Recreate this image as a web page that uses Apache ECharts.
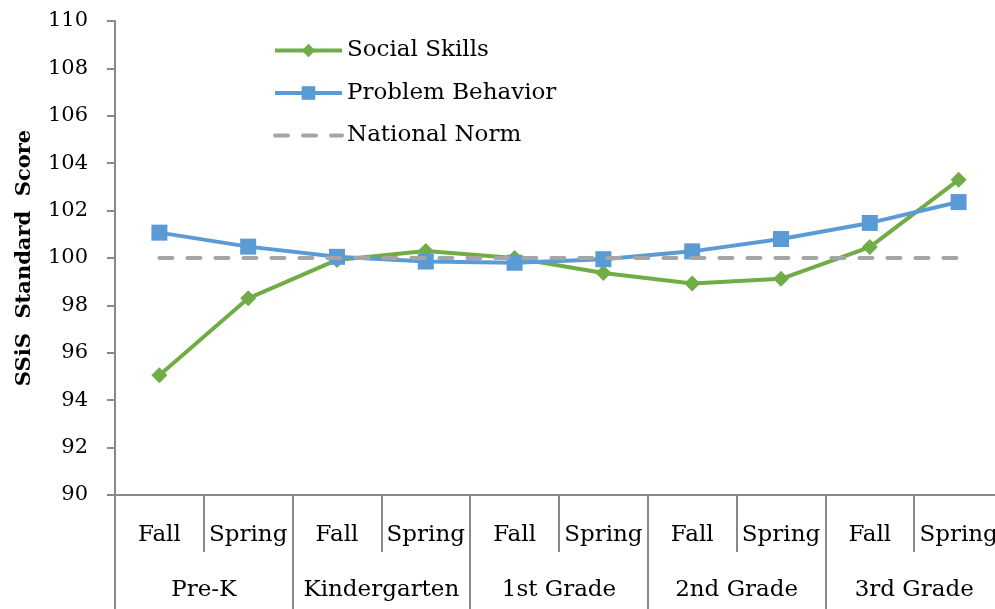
<!DOCTYPE html>
<html>
<head>
<meta charset="utf-8">
<script src="https://cdn.jsdelivr.net/npm/echarts@6/dist/echarts.min.js"></script>
<style>
	html, body { margin: 0; padding: 0; background: #fff; }
	#chart { width: 995px; height: 609px; }
</style>
</head>
<body>
<div id="chart"></div>
<script>
	// terms within each grade, and the grades themselves
	var terms = ['Fall', 'Spring', 'Fall', 'Spring', 'Fall', 'Spring', 'Fall', 'Spring', 'Fall', 'Spring'];
	var grades = ['Pre-K', 'Kindergarten', '1st Grade', '2nd Grade', '3rd Grade'];

	var socialSkills = [95.05, 98.3, 99.92, 100.3, 100.0, 99.37, 98.92, 99.12, 100.46, 103.3];
	var problemBehavior = [101.07, 100.48, 100.05, 99.85, 99.8, 99.95, 100.28, 100.8, 101.48, 102.36];
	var nationalNorm = [100, 100, 100, 100, 100, 100, 100, 100, 100, 100];

	var yTicks = { min: 90, max: 110, interval: 2 };

	var font = 'DejaVu Serif';
	var axisGray = '#898989';

	var chart = echarts.init(document.getElementById('chart'));
	chart.setOption({
		animation: false,
		textStyle: { fontFamily: font, color: '#000' },
		grid: { left: 115, top: 21, width: 888, bottom: 114, outerBoundsMode: 'none' },
		legend: {
			orient: 'vertical',
			left: 268,
			top: 34,
			itemWidth: 67,
			itemHeight: 17,
			itemGap: 19.5,
			lineStyle: { width: 4 },
			textStyle: { fontFamily: font, fontSize: 23, color: '#000' },
			data: [
				'Social Skills',
				'Problem Behavior',
				{ name: 'National Norm', itemStyle: { opacity: 0 } }
			]
		},
		xAxis: [{
			type: 'category',
			data: terms,
			boundaryGap: true,
			axisLine: { show: true, lineStyle: { color: axisGray, width: 2 } },
			axisTick: { show: true, interval: 0, length: 57, lineStyle: { color: axisGray, width: 2 } },
			axisLabel: { interval: 0, margin: 29, fontFamily: font, fontSize: 23, color: '#000' }
		}, {
			type: 'category',
			data: grades,
			position: 'bottom',
			boundaryGap: true,
			axisLine: { show: false },
			axisTick: { show: true, interval: 0, length: 114, lineStyle: { color: axisGray, width: 2 } },
			axisLabel: { interval: 0, margin: 84, fontFamily: font, fontSize: 23, color: '#000' }
		}],
		yAxis: {
			type: 'value',
			min: yTicks.min,
			max: yTicks.max,
			interval: yTicks.interval,
			name: 'SSiS  Standard  Score',
			nameLocation: 'middle',
			nameGap: 80,
			nameTextStyle: { fontFamily: font, fontSize: 21, fontWeight: 'bold', color: '#000' },
			axisLine: { show: true, lineStyle: { color: axisGray, width: 2 } },
			axisTick: { show: true, length: 8, lineStyle: { color: axisGray, width: 2 } },
			axisLabel: { margin: 27, fontFamily: font, fontSize: 21, color: '#000' },
			splitLine: { show: false }
		},
		series: [{
			name: 'Social Skills',
			type: 'line',
			data: socialSkills,
			symbol: 'diamond',
			symbolSize: 16,
			itemStyle: { color: '#70AD47' },
			lineStyle: { color: '#70AD47', width: 4 },
			z: 2
		}, {
			name: 'Problem Behavior',
			type: 'line',
			data: problemBehavior,
			symbol: 'rect',
			symbolSize: 16,
			itemStyle: { color: '#5B9BD5' },
			lineStyle: { color: '#5B9BD5', width: 4 },
			z: 3
		}, {
			name: 'National Norm',
			type: 'line',
			data: nationalNorm,
			showSymbol: false,
			symbol: 'none',
			itemStyle: { color: '#A5A5A5' },
			lineStyle: { color: '#A5A5A5', width: 4, type: [13, 15], cap: 'round' },
			z: 4
		}]
	});
</script>
</body>
</html>
